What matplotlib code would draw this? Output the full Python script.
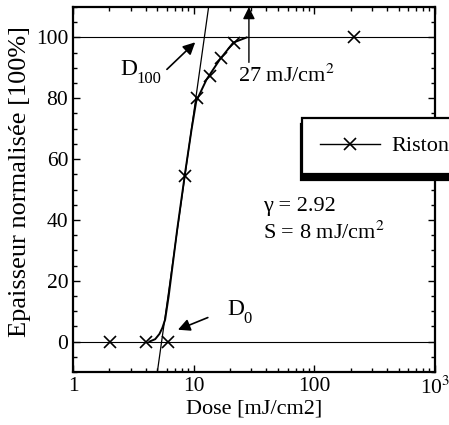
import matplotlib
matplotlib.use("Agg")
import matplotlib.pyplot as plt
from matplotlib.lines import Line2D
from matplotlib.ticker import FixedLocator, FixedFormatter, MultipleLocator, LogLocator, NullFormatter

plt.rcParams["font.family"] = ["Liberation Serif", "DejaVu Serif"]
plt.rcParams["mathtext.fontset"] = "stix"

# measured points (Riston)
dose = [2.03, 4.0, 6.1, 8.5, 10.6, 13.6, 16.8, 21.6, 213]
thick = [0, 0, 0, 54.4, 80, 87.3, 93.3, 98.2, 100]

# smooth curve
curve_x = [4.3, 4.8, 5.2, 5.5, 5.8, 6.2, 7.3, 8.5, 9.6, 10.5, 12.8, 16.5, 21.3, 27.5]
curve_y = [0, 0.8, 2.5, 4.5, 7.2, 14.8, 36.8, 55.6, 69.7, 79, 86.2, 92.8, 98.3, 100]

# contrast fit line (gamma = 2.92)
fit_x = [5.0, 13.3]
fit_y = [-10, 110]

x_ticks = [1, 10, 100, 1000]
x_labels = ["1", "10", "100", "10$^3$"]
y_ticks = [0, 20, 40, 60, 80, 100]

fig = plt.figure(figsize=(4.49, 4.25), dpi=100)
ax = fig.add_axes([0.1626, 0.1247, 0.8062, 0.8588])

ax.axhline(0, color="k", lw=0.8)
ax.axhline(100, color="k", lw=0.8)
ax.plot(fit_x, fit_y, color="k", lw=0.9)
ax.plot(curve_x, curve_y, color="k", lw=1.4)
ax.plot(dose, thick, ls="none", marker="x", ms=9, mew=1.2, color="k")

ax.set_xscale("log")
ax.set_xlim(1, 1000)
ax.set_ylim(-10, 110)
ax.xaxis.set_major_locator(FixedLocator(x_ticks))
ax.xaxis.set_major_formatter(FixedFormatter(x_labels))
ax.xaxis.set_minor_locator(LogLocator(base=10, subs=range(2, 10)))
ax.xaxis.set_minor_formatter(NullFormatter())
ax.yaxis.set_major_locator(FixedLocator(y_ticks))
ax.yaxis.set_minor_locator(MultipleLocator(5))
ax.tick_params(which="both", direction="in", top=True, right=True, labelsize=15.5, width=1)
ax.tick_params(which="major", length=5)
ax.tick_params(which="minor", length=3)
for s in ax.spines.values():
    s.set_linewidth(1.6)

ax.set_xlabel("Dose [mJ/cm2]", fontsize=16, labelpad=0)
ax.set_ylabel("Epaisseur normalisée [100%]", fontsize=19)
ax.yaxis.set_label_coords(-0.115, 0.522)

# annotations
arrow = dict(arrowstyle="-|>", color="k", lw=1.2, mutation_scale=18, shrinkA=0, shrinkB=0)
ax.annotate("", xy=(10.3, 98.4), xytext=(6.0, 89.5), arrowprops=arrow)
ax.text(2.45, 87.8, "D", fontsize=17, va="baseline")
ax.text(3.39, 85.0, "100", fontsize=12, va="baseline")
ax.annotate("", xy=(28.7, 110), xytext=(28.7, 91.8), annotation_clip=False,
            arrowprops=dict(arrow, lw=1.0))
ax.text(23.3, 85.5, "27 mJ/cm$^2$", fontsize=16, va="baseline")
ax.annotate("", xy=(7.4, 3.9), xytext=(13.1, 7.9), arrowprops=arrow)
ax.text(18.9, 8.9, "D", fontsize=17, va="baseline")
ax.text(25.8, 6.2, "0", fontsize=12, va="baseline")
ax.text(37.5, 44.4, "γ = 2.92", fontsize=16, va="center")
ax.text(37.5, 35.8, "S = 8 mJ/cm$^2$", fontsize=16, va="center")

handle = Line2D([], [], color="k", lw=1, marker="x", ms=9, mew=1.2)
leg = ax.legend([handle], ["Riston"], loc="upper left",
                bbox_to_anchor=(302 / 449, 1 - 118 / 425), bbox_transform=fig.transFigure,
                fontsize=16, frameon=True, fancybox=False, borderaxespad=0,
                handlelength=2.7, handletextpad=0.5, borderpad=0.8,
                shadow={"ox": -1, "oy": -4.5, "color": "k", "alpha": 1})
leg.get_frame().set_edgecolor("k")
leg.get_frame().set_linewidth(1.6)

fig.savefig("out.png", dpi=100)
